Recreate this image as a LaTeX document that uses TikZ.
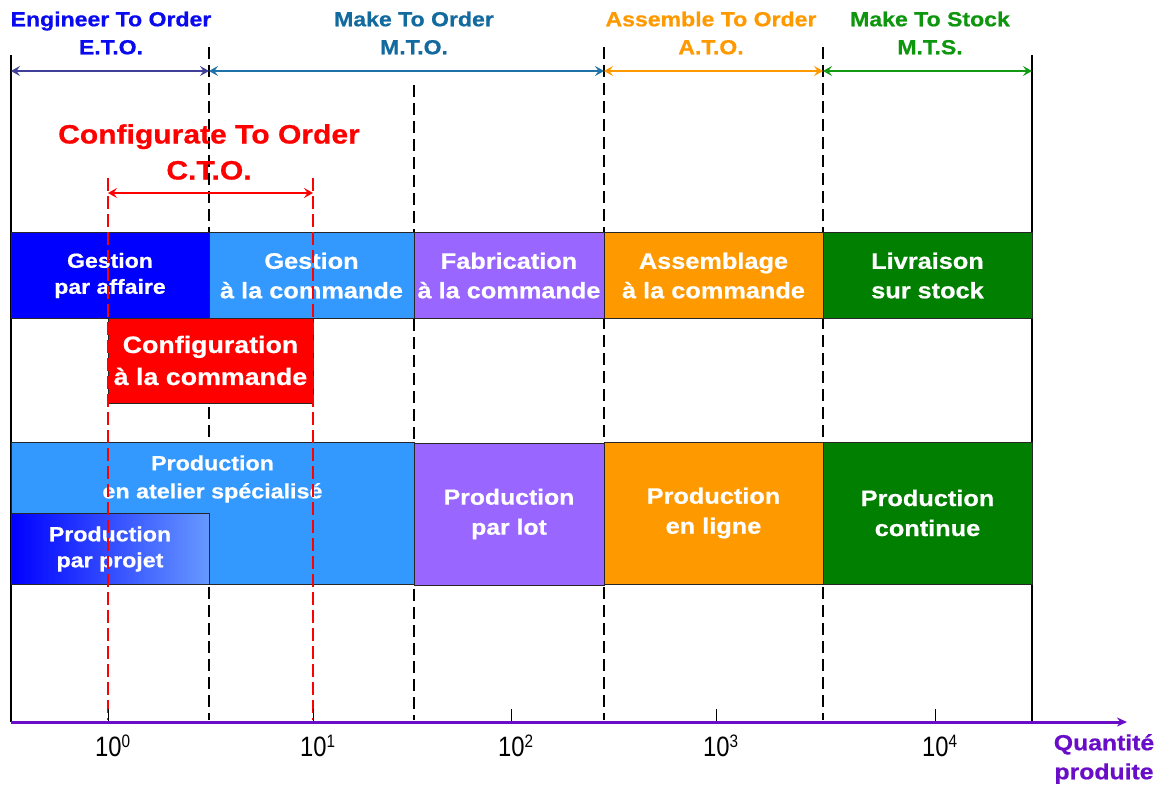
\documentclass[tikz,border=0pt]{standalone}
\usepackage{fontspec}
\setmainfont[FakeStretch=1.13, BoldFeatures={FakeBold=0.6}]{Liberation Sans}
\newfontfamily\tickfont[FakeStretch=0.85]{Liberation Sans}
\usetikzlibrary{arrows.meta}
\definecolor{cblue}{HTML}{0000FF}
\definecolor{clight}{HTML}{3399FF}
\definecolor{cpurple}{HTML}{9966FF}
\definecolor{corange}{HTML}{FF9900}
\definecolor{cgreen}{HTML}{007F00}
\definecolor{cred}{HTML}{FF0000}
\definecolor{cgrad}{HTML}{6699FF}
\definecolor{etotxt}{HTML}{0A0AEE}
\definecolor{mtotxt}{HTML}{126A9E}
\definecolor{mtstxt}{HTML}{0E960E}
\definecolor{etoarr}{HTML}{40409A}
\definecolor{mtoarr}{HTML}{1F72A8}
\definecolor{mtsarr}{HTML}{129A12}
\definecolor{axiscol}{HTML}{6A0DC8}
\newcommand{\fsz}[2]{\fontsize{#1}{#2}\selectfont}
\newcommand{\tenpow}[1]{{\tickfont\fsz{28}{30}10\raisebox{9pt}{\fsz{18}{18}#1}}}
\begin{document}
\begin{tikzpicture}[x=1pt,y=-1pt,
  box/.style={draw=black!85, line width=1pt, inner sep=0pt, text=white, align=center},
  boxtxt/.style={text=white, align=center, inner sep=0pt},
  blackdash/.style={black, line width=1.8pt, dash pattern=on 12pt off 6pt},
  reddash/.style={cred, line width=1.6pt, dash pattern=on 13pt off 5pt},
  solidv/.style={black, line width=2.4pt},
  toparr/.style={line width=1.8pt, {Stealth[length=9pt,width=10pt,inset=3.5pt]}-{Stealth[length=9pt,width=10pt,inset=3.5pt]}},
  tick/.style={black, line width=1pt},
  toplbl/.style={align=center, inner sep=0pt, font=\bfseries\fsz{20.4}{28}},
  ticklbl/.style={inner sep=0pt, anchor=base west},
]
\useasboundingbox (0,0) rectangle (1168,789);

% coordinates
\coordinate (v0t) at (11,55);   \coordinate (v0b) at (11,722);
\coordinate (v5t) at (1032,55); \coordinate (v5b) at (1032,722);
\coordinate (v1t) at (209,47);  \coordinate (v1b) at (209,720);
\coordinate (v2t) at (414,85);  \coordinate (v2b) at (414,720);
\coordinate (v3t) at (604,47);  \coordinate (v3b) at (604,720);
\coordinate (v4t) at (823,47);  \coordinate (v4b) at (823,720);
\coordinate (r1t) at (108,178); \coordinate (r1b) at (108,720);
\coordinate (r2t) at (313,178); \coordinate (r2b) at (313,720);

% black dashed and solid verticals
\draw[blackdash] (v1t) -- (v1b);
\draw[blackdash] (v2t) -- (v2b);
\draw[blackdash] (v3t) -- (v3b);
\draw[blackdash] (v4t) -- (v4b);
\draw[solidv] (v0t) -- (v0b);
\draw[solidv] (v5t) -- (v5b);

% row 1
\node[box, fill=cblue, minimum width=198pt, minimum height=85.5pt, font=\bfseries\fsz{20.4}{26}] (g1) at (110,275.5) {Gestion\\par affaire};
\node[box, fill=clight, minimum width=205pt, minimum height=85.5pt, font=\bfseries\fsz{22.4}{29.5}] (g2) at (311.5,275.5) {Gestion\\à la commande};
\node[box, fill=cpurple, minimum width=190pt, minimum height=85.5pt, font=\bfseries\fsz{22.4}{29.5}] (fab) at (509,275.5) {Fabrication\\à la commande};
\node[box, fill=corange, minimum width=219pt, minimum height=85.5pt, font=\bfseries\fsz{22.4}{29.5}] (ass) at (713.5,275.5) {Assemblage\\à la commande};
\node[box, fill=cgreen, minimum width=209pt, minimum height=85.5pt, font=\bfseries\fsz{22.4}{29.5}] (liv) at (927.5,275.5) {Livraison\\sur stock};
\node[box, fill=cred, minimum width=205pt, minimum height=85pt, font=\bfseries\fsz{23.7}{32}] (conf) at (210.5,360.5) {Configuration\\à la commande};

% row 2
\node[box, fill=clight, minimum width=403pt, minimum height=142pt] (atel) at (212.5,513) {};
\node[boxtxt, font=\bfseries\fsz{20.6}{28}] (ateltxt) at (212.5,479) {Production\\en atelier spécialisé};
\node[box, left color=cblue, right color=cgrad, minimum width=198pt, minimum height=71.5pt, font=\bfseries\fsz{20.5}{26}] (proj) at (110,549) {Production\\par projet};
\node[box, fill=cpurple, minimum width=190pt, minimum height=142pt, font=\bfseries\fsz{21.9}{30}] (lot) at (509,514) {Production\\par lot};
\node[box, fill=corange, minimum width=219pt, minimum height=142pt, font=\bfseries\fsz{22.4}{30}] (lig) at (713.5,513) {Production\\en ligne};
\node[box, fill=cgreen, minimum width=209pt, minimum height=142pt, font=\bfseries\fsz{22.4}{30}] (cont) at (927.5,513) {Production\\continue};

% red dashed
\draw[reddash] (r1t) -- (r1b);
\draw[reddash] (r2t) -- (r2b);

% top arrows
\coordinate (t0) at (11,71);
\coordinate (t1) at (209,71);
\coordinate (t2) at (604,71);
\coordinate (t3) at (823,71);
\coordinate (t4) at (1032,71);
\draw[toparr, etoarr] (t0) -- (t1);
\draw[toparr, mtoarr] (t1) -- (t2);
\draw[toparr, corange] (t2) -- (t3);
\draw[toparr, mtsarr] (t3) -- (t4);

% CTO arrow
\coordinate (c0) at (108,193);
\coordinate (c1) at (313,193);
\draw[toparr, cred] (c0) -- (c1);

% top labels
\node[toplbl, text=etotxt] (eto) at (111,33) {Engineer To Order\\E.T.O.};
\node[toplbl, text=mtotxt] (mto) at (414,33) {Make To Order\\M.T.O.};
\node[toplbl, text=corange] (ato) at (711,33) {Assemble To Order\\A.T.O.};
\node[toplbl, text=mtstxt] (mts) at (930,33) {Make To Stock\\M.T.S.};
\node[align=center, inner sep=0pt, text=cred, font=\bfseries\fsz{26.6}{36}] (cto) at (209,152) {Configurate To Order\\C.T.O.};

% axis
\coordinate (ax0) at (11,722);
\coordinate (ax1) at (1127,722);
\draw[axiscol, line width=3pt, -{Stealth[length=10pt,width=9pt]}] (ax0) -- (ax1);
\foreach \x/\n in {108/a,313/b,511/c,716/d,935/e}{
  \coordinate (tk\n t) at (\x,709);
  \coordinate (tk\n b) at (\x,721);
  \draw[tick] (tk\n t) -- (tk\n b);
}
\node[ticklbl] (l0) at (95,756) {\tenpow{0}};
\node[ticklbl] (l1) at (300,756) {\tenpow{1}};
\node[ticklbl] (l2) at (498,756) {\tenpow{2}};
\node[ticklbl] (l3) at (703,756) {\tenpow{3}};
\node[ticklbl] (l4) at (922,756) {\tenpow{4}};
\node[inner sep=0pt, align=center, text=axiscol, font=\bfseries\fsz{21.9}{29}] (qp) at (1104,759) {Quantité\\produite};
\end{tikzpicture}
\end{document}
